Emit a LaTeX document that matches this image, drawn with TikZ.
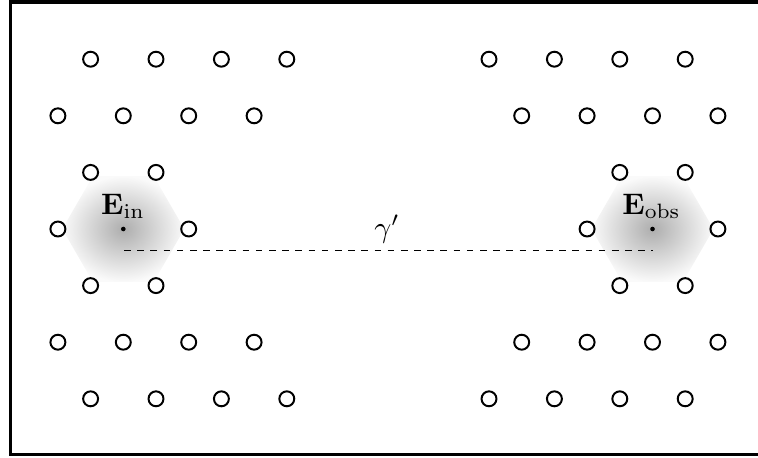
\documentclass[tikz,border=0pt]{standalone}
\usepackage{graphicx}
\usetikzlibrary{calc}
\newcommand{\lblsize}[1]{\scalebox{1.35}{#1}}
\tikzset{
  site/.style={circle,draw,line width=0.9pt,inner sep=0pt,minimum size=6.8pt},
  frameline/.style={line width=1.8pt},
  glow/.style={inner color=black!32,outer color=black!2},
  centerdot/.style={circle,fill,inner sep=0pt,minimum size=2.1pt},
  lbl/.style={anchor=base,inner sep=0pt}
}
\begin{document}
\begin{tikzpicture}[x=0.455pt,y=-0.455pt]
\useasboundingbox (0,0) rectangle (758,457);
\begin{scope}
  \clip (0,0) rectangle (758,457);
  \draw[frameline] (10.5,2) rectangle (790,454.5);
\end{scope}
\def\a{65.4}
\def\h{56.6}
% hexagon shadings
\coordinate (cin) at (123.3,229);
\coordinate (cobs) at (652.5,229);
\shade[glow,shift={(cin)}] (0:61) -- (60:61) -- (120:61) -- (180:61) -- (240:61) -- (300:61) -- cycle;
\shade[glow,shift={(cobs)}] (0:61) -- (60:61) -- (120:61) -- (180:61) -- (240:61) -- (300:61) -- cycle;
% left lattice
\foreach \r in {-3,3}{
  \foreach \c in {-0.5,0.5,1.5,2.5}{
    \node[site] (L\r_\c) at ($(cin)+(\c*\a,\r*\h)$) {};
  }
}
\foreach \r in {-2,2}{
  \foreach \c in {-1,0,1,2}{
    \node[site] (L\r_\c) at ($(cin)+(\c*\a,\r*\h)$) {};
  }
}
\foreach \r in {-1,1}{
  \foreach \c in {-0.5,0.5}{
    \node[site] (L\r_\c) at ($(cin)+(\c*\a,\r*\h)$) {};
  }
}
\foreach \c in {-1,1}{
  \node[site] (L0_\c) at ($(cin)+(\c*\a,0)$) {};
}
% right lattice
\foreach \r in {-3,3}{
  \foreach \c in {-2.5,-1.5,-0.5,0.5}{
    \node[site] (R\r_\c) at ($(cobs)+(\c*\a,\r*\h)$) {};
  }
}
\foreach \r in {-2,2}{
  \foreach \c in {-2,-1,0,1}{
    \node[site] (R\r_\c) at ($(cobs)+(\c*\a,\r*\h)$) {};
  }
}
\foreach \r in {-1,1}{
  \foreach \c in {-0.5,0.5}{
    \node[site] (R\r_\c) at ($(cobs)+(\c*\a,\r*\h)$) {};
  }
}
\foreach \c in {-1,1}{
  \node[site] (R0_\c) at ($(cobs)+(\c*\a,0)$) {};
}
% centre dots and labels
\node[centerdot] (din) at (cin) {};
\node[centerdot] (dobs) at (cobs) {};
\node[lbl] (lin) at (123,214) {\lblsize{$\mathbf{E}_{\mathrm{in}}$}};
\node[lbl] (lobs) at (651.5,214) {\lblsize{$\mathbf{E}_{\mathrm{obs}}$}};
% path
\coordinate (pin) at (124,250);
\coordinate (pobs) at (652.5,250);
\draw[dashed] (pin) -- (pobs);
\node[lbl] (gam) at (387,237) {\lblsize{$\gamma'$}};
\end{tikzpicture}
\end{document}
